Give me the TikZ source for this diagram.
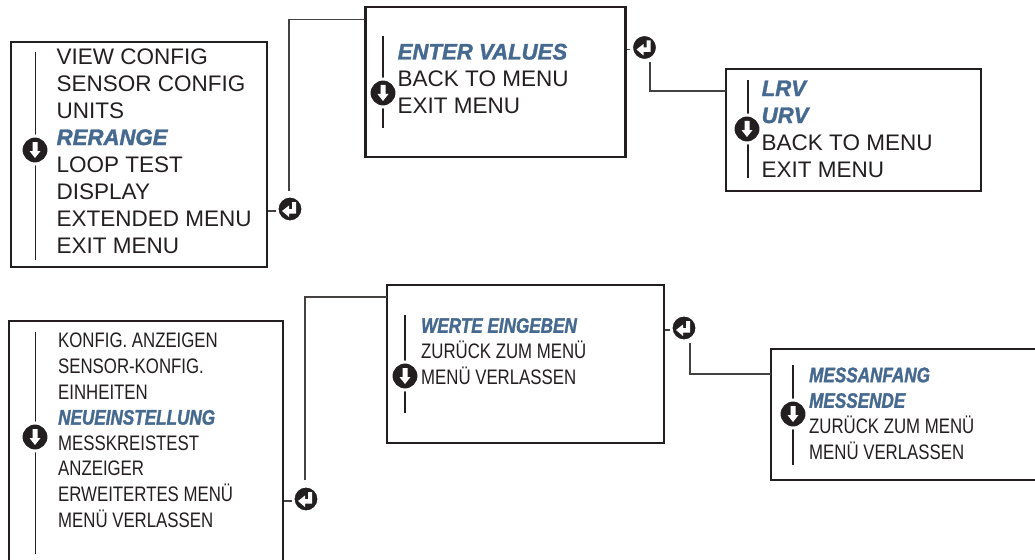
\documentclass[tikz,border=0pt]{standalone}
\usepackage{fontspec}
\setmainfont{Liberation Sans}
\newfontfamily\narrowfont[FakeStretch=0.8]{Liberation Sans}
\newfontface\hlfont[FakeStretch=0.985,FakeBold=1.5]{Liberation Sans Bold Italic}
\newfontface\hlnarrowfont[FakeStretch=0.815,FakeBold=1.5]{Liberation Sans Bold Italic}
\usepackage{xcolor}
\usepackage{tikz}
\usetikzlibrary{positioning}
\definecolor{ink}{HTML}{231F20}
\definecolor{hlblue}{HTML}{466A8F}
\newcommand{\hl}[1]{{\hlfont\color{hlblue}#1}}
\newcommand{\hlde}[1]{{\hlnarrowfont\color{hlblue}#1}}

\begin{document}
\begin{tikzpicture}[x=1pt, y=-1pt,
  menubox/.style={rectangle, draw=ink, line width=2.4pt, fill=white, inner sep=0pt},
  menutxt/.style={anchor=base west, inner sep=0pt, align=left, text=ink,
              font=\fontsize{22.5}{27}\selectfont},
  menude/.style={anchor=base west, inner sep=0pt, align=left, text=ink,
              font=\narrowfont\fontsize{21}{25.6}\selectfont},
  downicon/.style={circle, fill=ink, draw=white, line width=3pt, minimum size=28pt, inner sep=0pt,
              path picture={
                \begin{scope}[shift={(path picture bounding box.center)}]
                  \fill[white] (-2.5,-8) -- (2.5,-8) -- (2.5,1) -- (5.5,1) -- (0,8) -- (-5.5,1) -- (-2.5,1) -- cycle;
                \end{scope}}},
  entericon/.style={circle, fill=ink, draw=white, line width=3pt, minimum size=26pt, inner sep=0pt,
              path picture={
                \begin{scope}[shift={(path picture bounding box.center)}]
                  \fill[white] (2,-7) -- (6,-7) -- (6,4.5) -- (-1,4.5) -- (-1,8) -- (-8,2) -- (-1,-3.5) -- (-1,0) -- (2,0) -- cycle;
                \end{scope}}},
  scrollbar/.style={draw=ink, line width=1.5pt},
  conn/.style={draw=ink!85, line width=1.2pt}
]
\clip (0,0) rectangle (1035,559);

\node[menubox, minimum width=256pt, minimum height=225pt] (viewbox) at (139,154.5) {};
\node[menubox, minimum width=260pt, minimum height=150pt] (valbox)  at (495.5,82)  {};
\node[menubox, minimum width=255pt, minimum height=122pt] (lrvbox)  at (853.5,130) {};
\node[menubox, minimum width=274pt, minimum height=279pt] (viewboxde) at (146,460.5) {};
\node[menubox, minimum width=277pt, minimum height=158pt] (valboxde)  at (525.5,364) {};
\node[menubox, minimum width=289pt, minimum height=131pt] (lrvboxde)  at (915.5,414.5) {};

\node[menutxt] (viewtxt) at (56.5,253) {VIEW CONFIG\\SENSOR CONFIG\\UNITS\\\hl{RERANGE}\\LOOP TEST\\DISPLAY\\EXTENDED MENU\\EXIT MENU};
\node[menutxt] (valtxt) at (397.5,113.5) {\hl{ENTER VALUES}\\BACK TO MENU\\EXIT MENU};
\node[menutxt] (lrvtxt) at (761.5,177) {\hl{LRV}\\\hl{URV}\\BACK TO MENU\\EXIT MENU};
\node[menude] (viewtxtde) at (58,527) {KONFIG. ANZEIGEN\\SENSOR-KONFIG.\\EINHEITEN\\\hlde{NEUEINSTELLUNG}\\MESSKREISTEST\\ANZEIGER\\ERWEITERTES MENÜ\\MENÜ VERLASSEN};
\node[menude] (valtxtde) at (421,384) {\hlde{WERTE EINGEBEN}\\ZURÜCK ZUM MENÜ\\MENÜ VERLASSEN};
\node[menude] (lrvtxtde) at (809,459) {\hlde{MESSANFANG}\\\hlde{MESSENDE}\\ZURÜCK ZUM MENÜ\\MENÜ VERLASSEN};

\coordinate (viewtop) at (35.5,52);  \coordinate (viewend) at (35.5,260);
\coordinate (valtop)  at (383,36);   \coordinate (valend)  at (383,128);
\coordinate (lrvtop)  at (748,80);   \coordinate (lrvend)  at (748,178);
\coordinate (viewtopde) at (35.5,332); \coordinate (viewendde) at (35.5,554);
\coordinate (valtopde)  at (405,315);  \coordinate (valendde)  at (405,413);
\coordinate (lrvtopde)  at (793,365);  \coordinate (lrvendde)  at (793,465);

\draw[scrollbar] (viewtop) -- (viewend);
\draw[scrollbar] (valtop)  -- (valend);
\draw[scrollbar] (lrvtop)  -- (lrvend);
\draw[scrollbar] (viewtopde) -- (viewendde);
\draw[scrollbar] (valtopde)  -- (valendde);
\draw[scrollbar] (lrvtopde)  -- (lrvendde);

\node[downicon] (downview) at (35,150) {};
\node[downicon] (downval)  at (383,93) {};
\node[downicon] (downlrv)  at (747,129) {};
\node[downicon] (downviewde) at (35,437) {};
\node[downicon] (downvalde)  at (405,376) {};
\node[downicon] (downlrvde)  at (793,414) {};

\node[entericon] (enterview) at (290,209) {};
\node[entericon] (enterval)  at (644.5,47.5) {};
\node[entericon] (enterviewde) at (306,499) {};
\node[entericon] (entervalde)  at (684,328) {};

\coordinate (valin) at (365,19.5);
\coordinate (lrvin) at (726,91);
\coordinate (valinde) at (387,297);
\coordinate (lrvinde) at (771,374);

\draw[conn] ([yshift=-2pt]viewbox.east |- enterview) -- ([yshift=-2pt]enterview.west);
\draw[conn] ([yshift=-2pt]valbox.east |- enterval) -- ([yshift=-2pt]enterval.west);
\draw[conn] ([yshift=-2pt]viewboxde.east |- enterviewde) -- ([yshift=-2pt]enterviewde.west);
\draw[conn] ([yshift=-2pt]valboxde.east |- entervalde) -- ([yshift=-2pt]entervalde.west);

\draw[conn, shorten <=3.5pt] ([xshift=-1pt]enterview.north) |- (valin);
\draw[conn] ([xshift=5.5pt]enterval.south) |- (lrvin);
\draw[conn, shorten <=4.5pt] ([xshift=-1pt]enterviewde.north) |- (valinde);
\draw[conn] ([xshift=6pt]entervalde.south) |- (lrvinde);

\end{tikzpicture}
\end{document}
